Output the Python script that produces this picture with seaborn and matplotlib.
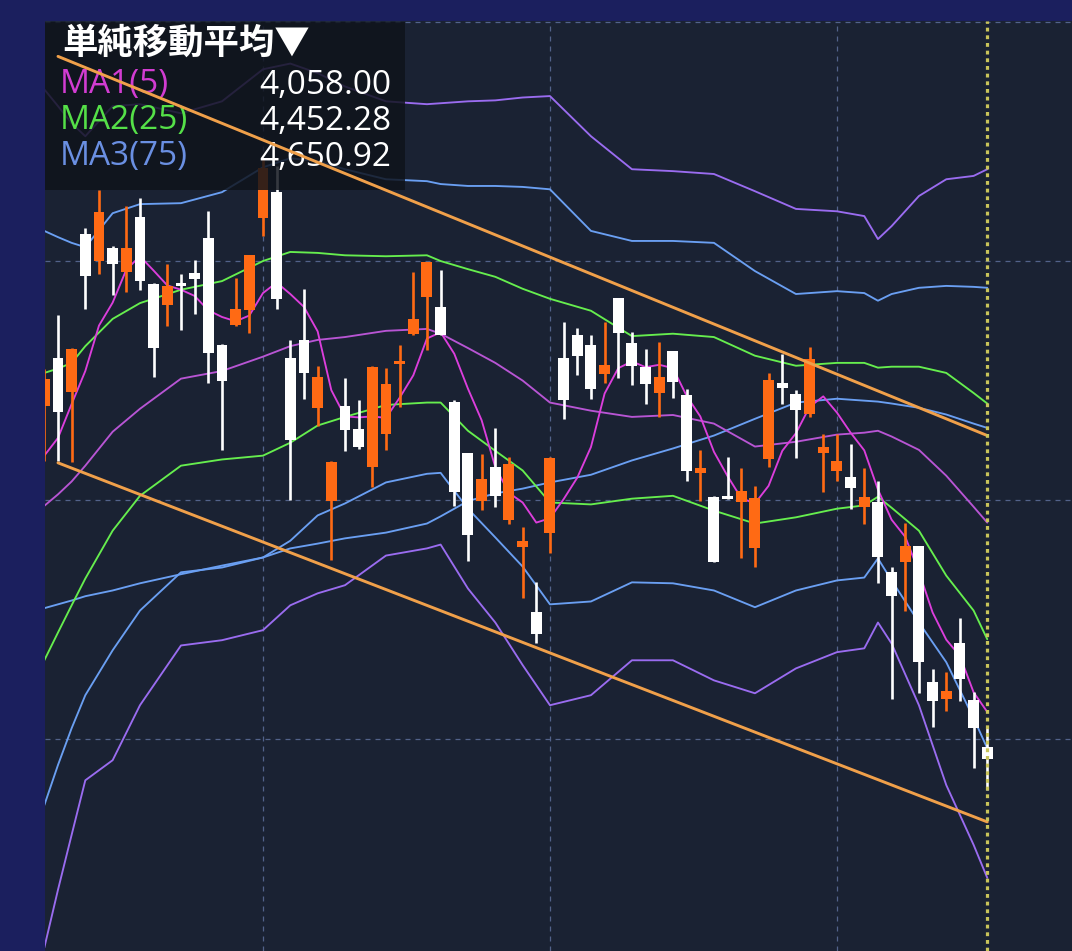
import matplotlib
matplotlib.use("Agg")
import matplotlib.pyplot as plt
from matplotlib.patches import Rectangle
import seaborn as sns

# daily candles (orange = up, white = down)
opens = [4697, 4797, 4726, 5056, 5000, 5027, 4977, 5092, 4952, 4908,
         4954, 4975, 5048, 4825, 4866, 4898, 5090, 5144, 4797, 4835,
         4693, 4498, 4697, 4649, 4570, 4639, 4785, 4848, 4925, 4904,
         4706, 4599, 4498, 4570, 4459, 4401, 4265, 4432, 4797, 4845,
         4825, 4764, 4923, 4829, 4779, 4724, 4812, 4720, 4557, 4507,
         4509, 4497, 4399, 4587, 4745, 4722, 4681, 4599, 4560, 4549,
         4486, 4497, 4349, 4370, 4403, 4119, 4083, 4202, 4081, 3983]
highs = [4775, 4887, 4818, 5069, 5148, 5031, 5115, 5131, 4954, 4994,
         4973, 5002, 5104, 4827, 4965, 5012, 5213, 5198, 4835, 4941,
         4781, 4582, 4756, 4710, 4781, 4777, 4825, 4977, 4998, 4981,
         4710, 4599, 4597, 4651, 4591, 4443, 4328, 4591, 4873, 4860,
         4845, 4873, 4923, 4852, 4816, 4831, 4812, 4733, 4605, 4509,
         4591, 4568, 4530, 4766, 4806, 4731, 4820, 4639, 4639, 4618,
         4568, 4539, 4361, 4453, 4403, 4146, 4140, 4253, 4098, 4023]
lows = [4582, 4582, 4580, 4900, 4973, 4929, 4935, 4940, 4758, 4864,
        4856, 4889, 4745, 4605, 4864, 4850, 5052, 4900, 4500, 4712,
        4655, 4374, 4603, 4607, 4528, 4605, 4695, 4845, 4814, 4845,
        4488, 4372, 4480, 4486, 4451, 4296, 4202, 4390, 4670, 4762,
        4712, 4745, 4756, 4741, 4701, 4674, 4714, 4539, 4498, 4370,
        4503, 4378, 4361, 4570, 4701, 4589, 4674, 4516, 4541, 4482,
        4451, 4326, 4084, 4269, 4096, 4025, 4058, 4079, 3939, 3894]
closes = [4754, 4685, 4816, 4969, 5102, 4994, 5027, 4958, 4818, 4948,
          4948, 4962, 4808, 4750, 4900, 5012, 5194, 4921, 4626, 4766,
          4758, 4580, 4647, 4612, 4779, 4743, 4791, 4879, 4998, 4846,
          4516, 4428, 4545, 4509, 4576, 4415, 4221, 4589, 4710, 4802,
          4733, 4783, 4850, 4781, 4743, 4758, 4747, 4560, 4568, 4370,
          4503, 4520, 4505, 4752, 4735, 4689, 4795, 4612, 4582, 4526,
          4507, 4382, 4299, 4403, 4161, 4079, 4100, 4125, 4023, 3958]

# 5-day moving average, one value per candle
ma5 = [4593, 4630, 4701, 4770, 4865, 4913, 4982, 5010, 4980, 4949,
       4940, 4927, 4897, 4883, 4874, 4886, 4933, 4955, 4931, 4904,
       4853, 4730, 4675, 4673, 4675, 4672, 4714, 4761, 4838, 4851,
       4806, 4733, 4667, 4569, 4515, 4495, 4453, 4462, 4502, 4547,
       4611, 4723, 4776, 4790, 4778, 4783, 4776, 4718, 4675, 4601,
       4550, 4504, 4493, 4530, 4603, 4640, 4695, 4717, 4683, 4641,
       4604, 4522, 4459, 4423, 4350, 4265, 4208, 4174, 4098, 4057]

# smoother lines, read at these candles
band_idx = [0, 1, 2, 3, 5, 7, 10, 13, 16, 18, 20, 22, 25, 28, 29, 31, 33,
            35, 37, 40, 43, 46, 49, 52, 55, 58, 60, 61, 62, 64, 66, 68, 69]
mid25 = [4488, 4512, 4539, 4572, 4643, 4691, 4754, 4770, 4800, 4822,
         4835, 4841, 4854, 4858, 4848, 4818, 4787, 4750, 4704, 4687,
         4674, 4678, 4660, 4612, 4622, 4637, 4641, 4645, 4633, 4605,
         4551, 4486, 4453]
up1 = [4766, 4775, 4787, 4822, 4879, 4912, 4940, 4958, 5000, 5019,
       5017, 5012, 5010, 5012, 5000, 4983, 4967, 4942, 4921, 4896,
       4843, 4848, 4841, 4802, 4781, 4787, 4787, 4777, 4779, 4779,
       4766, 4724, 4702]
dn1 = [4165, 4223, 4280, 4336, 4436, 4509, 4572, 4585, 4593, 4620,
       4656, 4674, 4699, 4704, 4704, 4645, 4603, 4562, 4495, 4491,
       4503, 4509, 4478, 4451, 4464, 4482, 4489, 4507, 4484, 4436,
       4342, 4269, 4209]
up2 = [5063, 5050, 5038, 5029, 5100, 5119, 5121, 5144, 5196, 5215,
       5209, 5192, 5171, 5167, 5161, 5157, 5157, 5155, 5150, 5063,
       5042, 5042, 5038, 4979, 4931, 4937, 4933, 4917, 4931, 4944,
       4948, 4946, 4944]
dn2 = [3862, 3946, 4023, 4092, 4186, 4269, 4349, 4359, 4380, 4415,
       4468, 4493, 4537, 4555, 4557, 4482, 4422, 4361, 4282, 4288,
       4328, 4326, 4311, 4276, 4311, 4332, 4338, 4378, 4332, 4244,
       4161, 4044, 3981]
up3 = [5359, 5324, 5288, 5261, 5324, 5328, 5309, 5334, 5401, 5413,
       5393, 5365, 5334, 5328, 5330, 5334, 5336, 5342, 5345, 5261,
       5192, 5188, 5182, 5146, 5109, 5104, 5094, 5046, 5073, 5136,
       5171, 5178, 5192]
dn3 = [3564, 3685, 3800, 3914, 3956, 4071, 4196, 4207, 4228, 4280,
       4305, 4322, 4384, 4399, 4407, 4315, 4244, 4155, 4071, 4092,
       4165, 4165, 4123, 4096, 4148, 4182, 4190, 4244, 4200, 4071,
       3904, 3779, 3710]
ma75 = [4274, 4282, 4290, 4299, 4311, 4326, 4345, 4363, 4380, 4399,
        4409, 4420, 4432, 4451, 4466, 4498, 4514, 4524, 4537, 4553,
        4583, 4608, 4635, 4670, 4704, 4712, 4708, 4706, 4702, 4693,
        4679, 4660, 4651]

# hand-drawn trend channel
trend_idx = [1, 69]
trend_upper = [5428, 4635]
trend_lower = [4578, 3827]

legend_title = "単純移動平均▼"
legend_names = ["MA1(5)", "MA2(25)", "MA3(75)"]
legend_values = ["4,058.00", "4,452.28", "4,650.92"]

NAVY = "#1b1f5e"
BG = "#1a2233"
ORANGE = "#ff6a14"
sns.set_theme(style="dark")
plt.rcParams["font.family"] = ["Noto Sans CJK JP", "DejaVu Sans"]

fig = plt.figure(figsize=(10.72, 9.51), dpi=100, facecolor=NAVY)
ax = fig.add_axes([45 / 1072, 0, 1027 / 1072, 930 / 951])
ax.set_facecolor(BG)

# indicator lines
line_w = 1.35
sns.lineplot(x=band_idx, y=up3, ax=ax, color="#9a6cf0", lw=line_w, zorder=2)
sns.lineplot(x=band_idx, y=dn3, ax=ax, color="#9a6cf0", lw=line_w, zorder=2)
sns.lineplot(x=band_idx, y=up2, ax=ax, color="#6a9ff2", lw=line_w, zorder=2)
sns.lineplot(x=band_idx, y=dn2, ax=ax, color="#6a9ff2", lw=line_w, zorder=2)
sns.lineplot(x=band_idx, y=ma75, ax=ax, color="#6a9ff2", lw=line_w, zorder=2)
sns.lineplot(x=band_idx, y=up1, ax=ax, color="#66ee4e", lw=line_w, zorder=2)
sns.lineplot(x=band_idx, y=dn1, ax=ax, color="#66ee4e", lw=line_w, zorder=2)
sns.lineplot(x=band_idx, y=mid25, ax=ax, color="#b855d4", lw=line_w, zorder=2)
sns.lineplot(x=list(range(len(ma5))), y=ma5, ax=ax, color="#dc3edc", lw=line_w, zorder=2)

# candles
for i in range(len(opens)):
    o, h, l, c = opens[i], highs[i], lows[i], closes[i]
    col = ORANGE if c >= o else "#ffffff"
    ax.vlines(i, l, h, color=col, lw=1.9, zorder=3)
    ax.bar(i, max(abs(c - o), 6), bottom=min(o, c), width=0.8, color=col,
           linewidth=0, zorder=3)

# legend panel (sits over candles, under the trend lines)
ax.add_patch(Rectangle((45 / 1072, 1 - 190 / 951), 360 / 1072, 168 / 951,
                       transform=fig.transFigure, facecolor="#0f131b",
                       alpha=0.84, edgecolor="none", zorder=3.5, clip_on=False))
ax.text(62 / 1072, 1 - 43 / 951, legend_title, color="white", fontsize=25.5,
        weight="bold", va="center", ha="left", transform=fig.transFigure, zorder=3.6)
name_colors = ["#d23cd2", "#55e048", "#6a8fe2"]
row_y = [85, 121, 157]
for name, val, col, y in zip(legend_names, legend_values, name_colors, row_y):
    ax.text(60 / 1072, 1 - y / 951, name, color=col, fontsize=24, va="center",
            ha="left", family=["Open Sans", "DejaVu Sans"], transform=fig.transFigure,
            zorder=3.6)
    ax.text(391 / 1072, 1 - y / 951, val, color="white", fontsize=24, va="center",
            ha="right", family=["Open Sans", "DejaVu Sans"], transform=fig.transFigure,
            zorder=3.6)

# trend channel
sns.lineplot(x=trend_idx, y=trend_upper, ax=ax, color="#f0a04a", lw=2.1, zorder=4)
sns.lineplot(x=trend_idx, y=trend_lower, ax=ax, color="#f0a04a", lw=2.1, zorder=4)

# current-day marker
ax.axvline(69, color="#c9c45a", ls=(0, (1.2, 1.2)), lw=2.3, zorder=5)

ax.set_xlim(0.05, 75.2)
ax.set_ylim(3557, 5502)
ax.set_xticks([16, 37, 58])
ax.set_yticks([4000, 4500, 5000, 5500])
ax.grid(True, color="#52628a", ls=(0, (4, 4)), lw=0.9)
ax.tick_params(length=0, labelbottom=False, labelleft=False)
for s in ax.spines.values():
    s.set_visible(False)

fig.savefig("out.png", dpi=100, facecolor=NAVY)
